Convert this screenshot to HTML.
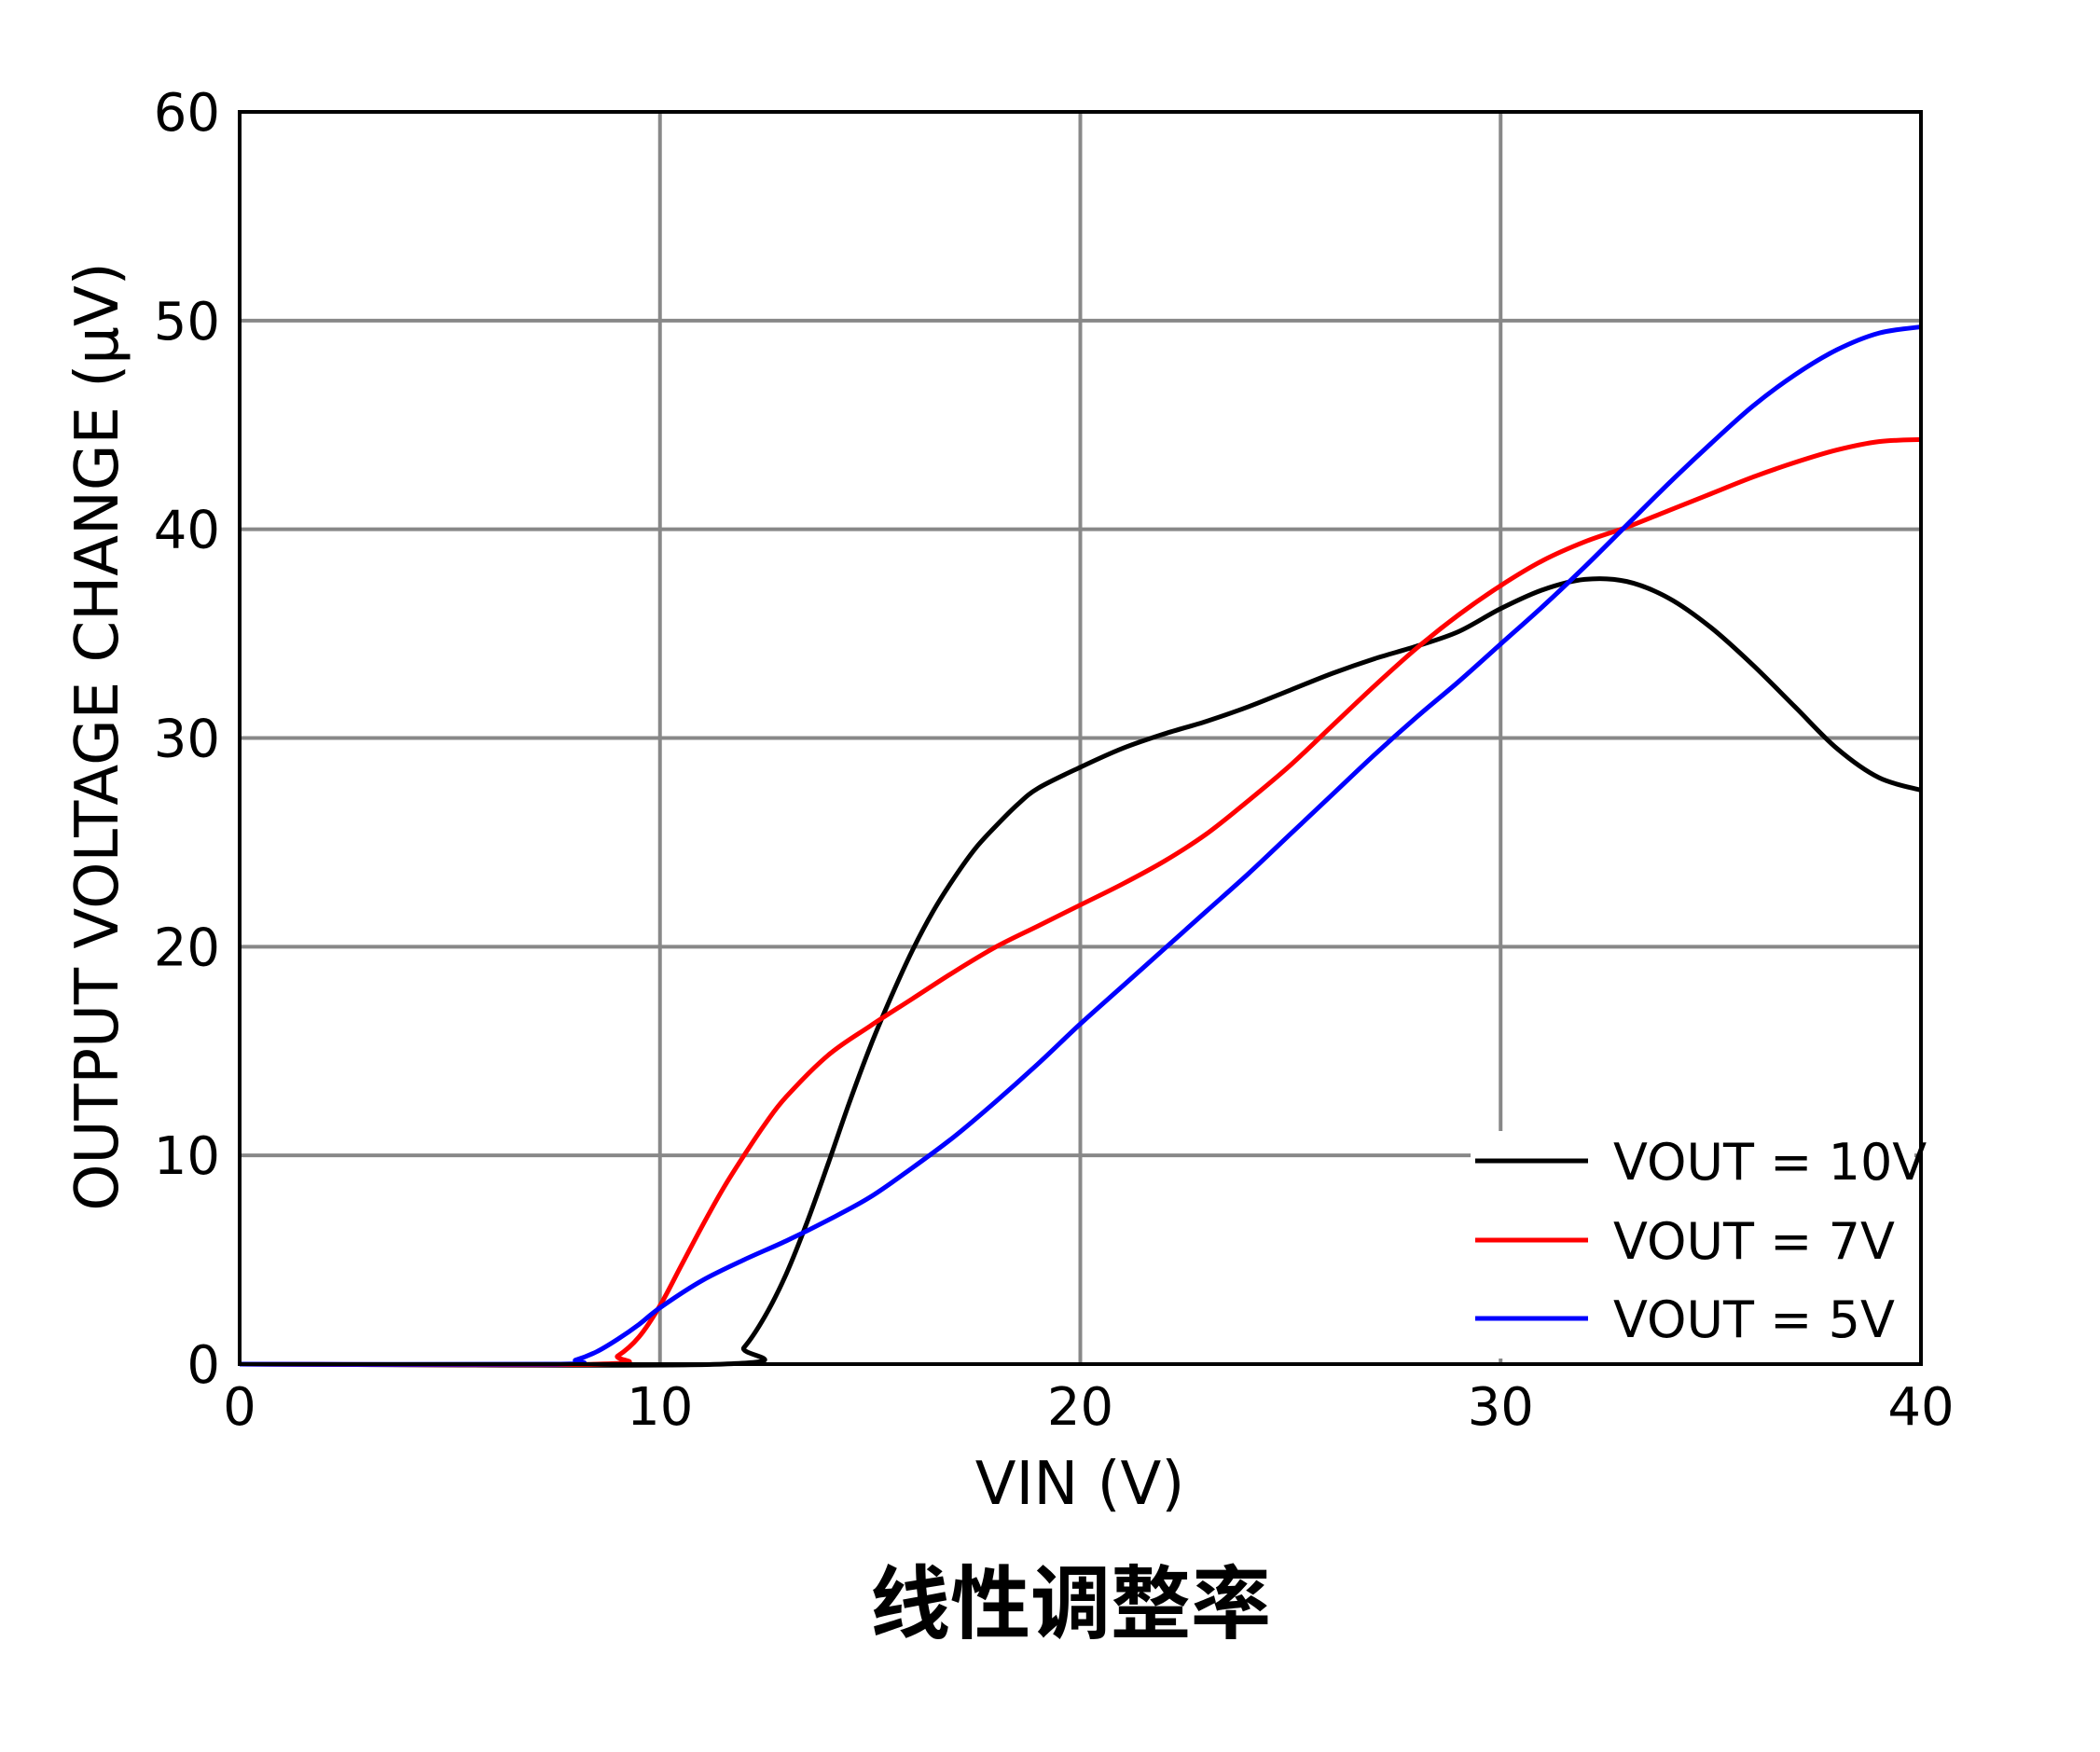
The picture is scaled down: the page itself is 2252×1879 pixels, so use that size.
<!DOCTYPE html>
<html><head><meta charset="utf-8"><style>
html,body{margin:0;padding:0;background:#fff;}
svg{display:block;}
text{font-family:"DejaVu Sans","Liberation Sans",sans-serif;fill:#000;}
</style></head><body>
<svg id="chart" width="2252" height="1879" viewBox="0 0 2252 1879" xmlns="http://www.w3.org/2000/svg">
<rect width="2252" height="1879" fill="#fff"/>
<g id="grid"></g>
<g id="series"></g>
<rect x="1577" y="1213" width="476" height="244" fill="#fff"/>
<rect x="257" y="120" width="1803" height="1343" fill="none" stroke="#000" stroke-width="4"/>
<g id="ticks"></g>
<text x="1158" y="1613" font-size="64" text-anchor="middle">VIN (V)</text>
<text x="0" y="0" font-size="64" text-anchor="middle" transform="translate(126,790) rotate(-90)">OUTPUT VOLTAGE CHANGE (μV)</text>
<text x="1148" y="1750" font-size="86" font-weight="bold" text-anchor="middle" style="font-family:'Liberation Sans','Noto Sans CJK SC',sans-serif">线性调整率</text>
<g id="legend"></g>
</svg>
<script>
const xTicks = [0, 10, 20, 30, 40];
const yTicks = [0, 10, 20, 30, 40, 50, 60];
const seriesNames = ["VOUT = 10V", "VOUT = 7V", "VOUT = 5V"];
const seriesColors = ["#000000", "#ff0000", "#0000ff"];
const vin10 = [0, 11.5, 12, 12.5, 13, 13.5, 14, 14.5, 15, 15.5, 16, 16.5, 17, 17.5, 18, 18.5, 19, 20, 21, 22, 23, 24, 25, 26, 27, 28, 29, 30, 31, 32, 33, 34, 35, 36, 37, 38, 39, 40];
const vout10 = [0, 0, 0.8, 2.3, 4.3, 6.8, 9.6, 12.5, 15.2, 17.6, 19.8, 21.7, 23.3, 24.7, 25.8, 26.8, 27.6, 28.6, 29.5, 30.2, 30.8, 31.5, 32.3, 33.1, 33.8, 34.4, 35.1, 36.2, 37.1, 37.6, 37.5, 36.7, 35.3, 33.5, 31.5, 29.5, 28.1, 27.5];
const vin7 = [0, 8.5, 9, 9.5, 10, 10.5, 11, 11.5, 12, 12.5, 13, 14, 15, 16, 17, 18, 19, 20, 21, 22, 23, 24, 25, 26, 27, 28, 29, 30, 31, 32, 33, 34, 35, 36, 37, 38, 39, 40];
const vout7 = [0, 0, 0.4, 1.3, 2.8, 4.7, 6.6, 8.4, 10.0, 11.5, 12.8, 14.8, 16.2, 17.5, 18.8, 20.0, 21.0, 22.0, 23.0, 24.1, 25.4, 27.0, 28.7, 30.6, 32.5, 34.3, 35.9, 37.3, 38.5, 39.4, 40.1, 40.9, 41.7, 42.5, 43.2, 43.8, 44.2, 44.3];
const vin5 = [0, 7.5, 8, 8.5, 9, 9.5, 10, 11, 12, 13, 14, 15, 16, 17, 18, 19, 20, 21, 22, 23, 24, 25, 26, 27, 28, 29, 30, 31, 32, 33, 34, 35, 36, 37, 38, 39, 40];
const vout5 = [0, 0, 0.2, 0.6, 1.2, 1.9, 2.7, 4.0, 5.0, 5.9, 6.9, 8.0, 9.4, 10.9, 12.6, 14.4, 16.3, 18.1, 19.9, 21.7, 23.5, 25.4, 27.3, 29.2, 31.0, 32.7, 34.5, 36.3, 38.2, 40.2, 42.2, 44.1, 45.9, 47.4, 48.6, 49.4, 49.7];

const X0 = 257, X1 = 2060, Y0 = 1463, Y1 = 120;
const xScale = v => X0 + (v - 0) / 40 * (X1 - X0);
const yScale = v => Y0 - (v - 0) / 60 * (Y0 - Y1);
const NS = "http://www.w3.org/2000/svg";
function mk(tag, attrs, parent) {
  const e = document.createElementNS(NS, tag);
  for (const k in attrs) e.setAttribute(k, attrs[k]);
  parent.appendChild(e);
  return e;
}
const grid = document.getElementById("grid");
const ticks = document.getElementById("ticks");
xTicks.forEach(t => {
  if (t > 0 && t < 40) {
    const l = mk("line", {x1: xScale(t), x2: xScale(t), y1: Y1, y2: Y0, stroke: "#888", "stroke-width": 4}, grid);
    
    
  }
  const tx = mk("text", {x: xScale(t), y: 1528, "font-size": 56, "text-anchor": "middle"}, ticks);
  tx.textContent = t;
  
  
});
yTicks.forEach(t => {
  if (t > 0 && t < 60) {
    const l = mk("line", {x1: X0, x2: X1, y1: yScale(t), y2: yScale(t), stroke: "#888", "stroke-width": 4}, grid);
    
    
  }
  const tx = mk("text", {x: 236, y: yScale(t) + 20, "font-size": 56, "text-anchor": "end"}, ticks);
  tx.textContent = t;
  
  
});
function pathFor(xs, ys) {
  const p = xs.map((x, i) => [xScale(x), yScale(ys[i])]);
  let d = "M" + p[0][0] + "," + p[0][1];
  for (let i = 0; i < p.length - 1; i++) {
    const a = p[Math.max(i - 1, 0)], b = p[i], c = p[i + 1], e = p[Math.min(i + 2, p.length - 1)];
    const c1 = [b[0] + (c[0] - a[0]) / 6, b[1] + (c[1] - a[1]) / 6];
    const c2 = [c[0] - (e[0] - b[0]) / 6, c[1] - (e[1] - b[1]) / 6];
    d += " C" + c1[0] + "," + c1[1] + " " + c2[0] + "," + c2[1] + " " + c[0] + "," + c[1];
  }
  return d;
}
const sg = document.getElementById("series");
const data = [[vin10, vout10], [vin7, vout7], [vin5, vout5]];
const sNames = ["series-vout-10v", "series-vout-7v", "series-vout-5v"];
data.forEach((s, i) => {
  const p = mk("path", {d: pathFor(s[0], s[1]), fill: "none", stroke: seriesColors[i], "stroke-width": 5, "stroke-linejoin": "round"}, sg);
  
  
});
const lg = document.getElementById("legend");
const rowY = [1245, 1330, 1414];
seriesNames.forEach((n, i) => {
  const l = mk("line", {x1: 1582, x2: 1703, y1: rowY[i], y2: rowY[i], stroke: seriesColors[i], "stroke-width": 5}, lg);
  
  
  const t = mk("text", {x: 1730, y: rowY[i] + 20, "font-size": 54}, lg);
  t.textContent = n;
  
  
});
</script>
</body></html>
